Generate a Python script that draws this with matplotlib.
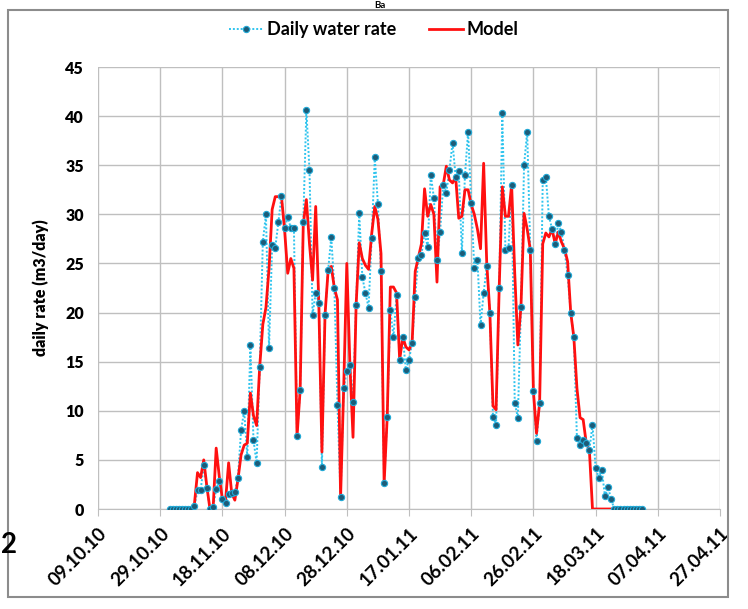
import datetime as dt
import numpy as np
import pandas as pd
import matplotlib
matplotlib.use("Agg")
import matplotlib.pyplot as plt
from matplotlib.lines import Line2D
from matplotlib.patches import Rectangle

plt.rcParams['font.family'] = ['Lato', 'DejaVu Sans']
plt.rcParams['font.weight'] = 'bold'

# daily series, one value per day starting 01.11.2010
start_day = '2010-11-01'
daily_rate = [
    0, 0, 0, 0, 0, 0, 0, 0, 0.3, 1.9,
    1.9, 4.5, 2.1, 0.0, 0.2, 2.0, 2.8, 1.0, 0.6, 1.5,
    1.6, 1.7, 3.2, 8.0, 10.0, 5.3, 16.7, 7.0, 4.7, 14.5,
    27.2, 30.0, 16.4, 26.9, 26.6, 29.2, 31.9, 28.6, 29.7, 28.6,
    28.6, 7.4, 12.1, 29.2, 40.6, 34.5, 19.8, 22.0, 21.0, 4.3,
    19.8, 24.3, 27.7, 22.5, 10.6, 1.2, 12.3, 14.0, 14.7, 10.9,
    20.8, 30.1, 23.6, 22.0, 20.5, 27.6, 35.8, 31.1, 24.2, 2.6,
    9.4, 20.3, 17.5, 21.8, 15.2, 17.5, 14.2, 15.2, 16.9, 21.6,
    25.6, 25.9, 28.1, 26.7, 34.0, 31.7, 25.4, 28.2, 33.0, 32.2,
    34.5, 37.3, 33.8, 34.4, 26.1, 34.0, 38.4, 31.2, 24.5, 25.4,
    18.7, 22.0, 24.7, 20.0, 9.4, 8.6, 22.5, 40.3, 26.4, 26.6,
    33.0, 10.8, 9.3, 20.6, 35.0, 38.4, 26.4, 12.0, 6.9, 10.8,
    33.5, 33.8, 29.8, 28.5, 27.0, 29.1, 28.2, 26.4, 23.8, 20.0,
    17.5, 7.2, 6.5, 7.0, 6.7, 6.0, 8.6, 4.2, 3.2, 4.0,
    1.3, 2.2, 1.0, 0, 0, 0, 0, 0, 0, 0,
    0, 0, 0,
]
model_rate = [
    0, 0, 0, 0, 0, 0, 0, 0, 0.5, 3.7,
    3.2, 5.0, 2.3, 0.0, 0.0, 6.2, 3.3, 1.0, 0.8, 4.7,
    1.6, 0.9, 3.0, 5.5, 6.5, 6.7, 11.8, 9.5, 8.5, 14.5,
    18.8, 20.5, 24.5, 30.5, 31.8, 31.8, 31.8, 28.4, 24.0, 25.5,
    24.5, 7.4, 12.1, 29.0, 31.5, 27.0, 23.3, 30.8, 21.0, 5.8,
    19.8, 24.3, 24.7, 22.5, 21.3, 1.2, 12.3, 25.0, 14.7, 7.3,
    20.8, 27.1, 25.5, 24.8, 24.4, 28.0, 30.8, 29.5, 26.0, 2.6,
    9.4, 22.6, 22.6, 22.0, 15.2, 17.5, 16.5, 16.2, 16.9, 24.2,
    25.6, 27.0, 32.6, 29.8, 31.0, 30.0, 23.1, 32.8, 33.0, 34.9,
    33.5, 33.2, 33.8, 29.6, 29.8, 32.5, 32.5, 31.0, 30.0, 28.5,
    26.5, 35.2, 25.0, 20.0, 10.5, 10.1, 22.5, 32.8, 29.8, 29.8,
    33.0, 24.0, 16.7, 20.6, 30.1, 28.5, 26.4, 12.0, 7.7, 10.8,
    27.0, 28.1, 27.7, 28.5, 27.0, 28.2, 27.2, 26.5, 25.2, 20.0,
    17.5, 12.3, 9.3, 9.1, 6.7, 6.0, 0, 0, 0, 0,
    0, 0, 0, 0, 0, 0, 0, 0, 0, 0,
    0, 0, 0,
]
tick_labels = ['09.10.10', '29.10.10', '18.11.10', '08.12.10', '28.12.10', '17.01.11',
               '06.02.11', '26.02.11', '18.03.11', '07.04.11', '27.04.11']

days = pd.date_range(start_day, periods=len(daily_rate), freq='D')
tick_dates = [dt.datetime.strptime(t, '%d.%m.%y') for t in tick_labels]

fig = plt.figure(figsize=(7.48, 6.09), dpi=100)
ax = fig.add_axes([98 / 748, 1 - 509 / 609, 622 / 748, 442 / 609])

grid_col = '#bfbfbf'
obs_line = dict(color='#2fc4ee', lw=1.4, ls=(0, (1, 1)))
obs_mark = dict(marker='o', ms=4.5, mfc='#1d5c78', mec='#22a9d6', mew=0.8)
ax.plot(days, daily_rate, zorder=2, **obs_line)
ax.plot(days, model_rate, color='#ff1010', lw=2.0, zorder=3)
ax.plot(days, daily_rate, ls='none', zorder=4, **obs_mark)

ax.set_xlim(tick_dates[0], tick_dates[-1])
ax.set_ylim(0, 45)
ax.set_yticks(np.arange(0, 46, 5))
ax.set_xticks(tick_dates)
ax.set_xticklabels(tick_labels, rotation=45, ha='right', rotation_mode='anchor',
                   fontsize=13.5, fontweight='bold')
ax.tick_params(axis='y', length=0, pad=10, labelsize=11.5)
ax.tick_params(axis='x', length=5, color=grid_col, pad=6)
ax.grid(True, color=grid_col, lw=1)
for s in ax.spines.values():
    s.set_visible(False)
ax.spines['bottom'].set_visible(True)
ax.spines['bottom'].set_color(grid_col)
ax.set_ylabel('daily rate (m3/day)', fontsize=11.5, fontweight='heavy', labelpad=12)
for lab in ax.get_yticklabels():
    lab.set_fontweight('heavy')

handles = [
    Line2D([], [], **obs_line, **obs_mark),
    Line2D([], [], color='#ff1010', lw=2.0),
]
fig.legend(handles, ['Daily water rate', 'Model'], loc='center', bbox_to_anchor=(0.5, 0.951),
           ncol=2, frameon=False, handlelength=1.9, columnspacing=1.8, handletextpad=0.2,
           prop={'weight': 'bold', 'size': 13})

# chart area border and the partly hidden labels next to it
fig.add_artist(Rectangle((8 / 748, 1 - 597 / 609), 720 / 748, 587 / 609, transform=fig.transFigure,
                         fill=False, ec='#8c8c8c', lw=1.5))
fig.text(1 / 748, 1 - 545 / 609, '2', fontsize=20, ha='left', va='center', fontweight='bold')
fig.text(380 / 748, 1 - 1 / 609, 'Ba', fontsize=7, ha='center', va='top', fontweight='bold')

fig.savefig('out.png', dpi=100)
